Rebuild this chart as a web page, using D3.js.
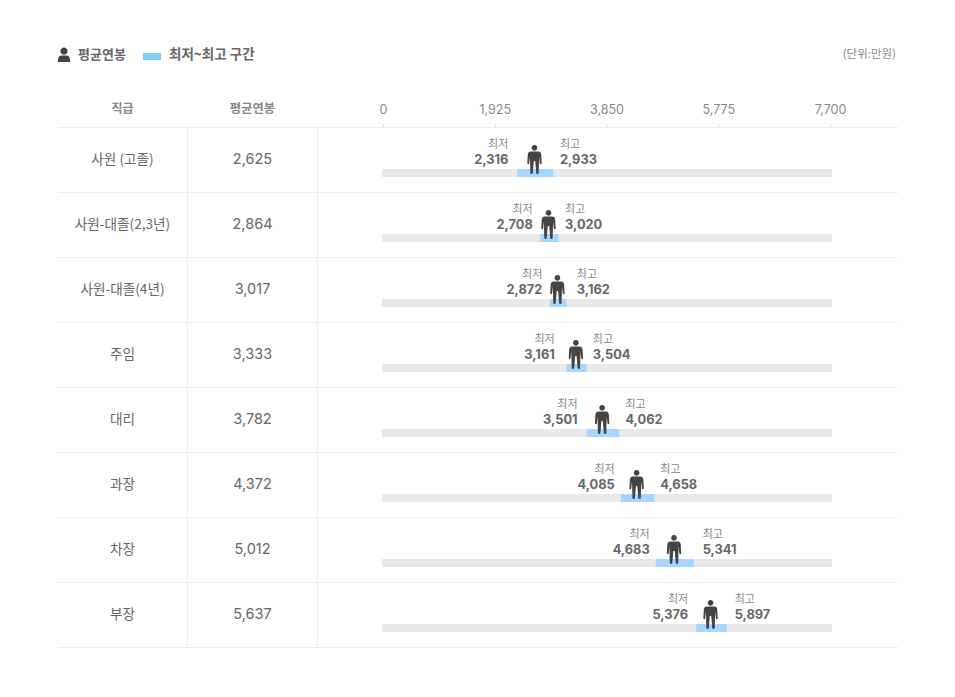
<!DOCTYPE html>
<html>
<head>
<meta charset="utf-8">
<script src="https://cdn.jsdelivr.net/npm/d3@7"></script>
<style>
  html, body { margin: 0; padding: 0; background: #fff; }
  text { font-family: Inter, "Noto Sans CJK KR", sans-serif; }
  .ko { font-family: "Noto Sans CJK KR", sans-serif; }
</style>
</head>
<body>
<div id="chart"></div>
<script>
const grades = ['사원 (고졸)', '사원-대졸(2,3년)', '사원-대졸(4년)', '주임', '대리', '과장', '차장', '부장']
const avgPay = [2625, 2864, 3017, 3333, 3782, 4372, 5012, 5637]
const lowPay = [2316, 2708, 2872, 3161, 3501, 4085, 4683, 5376]
const highPay = [2933, 3020, 3162, 3504, 4062, 4658, 5341, 5897]
const axisTicks = [0, 1925, 3850, 5775, 7700]

// hand tweaks for the min/max labels, px
const lowNudge = [-2, -0.5, 0, -5, -2, 1, 1, -1]
const highNudge = [-0.5, -0.5, 2.5, -1, -1, -1, 1.5, 1]

const w = 955
const h = 697
const rowH = 65
const tableTop = 127
const fmt = d3.format(',')

const xScale = d3.scaleLinear().domain([0, 7700]).range([382, 832])
const xAxisScale = d3.scaleLinear().domain([0, 7700]).range([383, 830])
const yScale = d3.scaleBand().domain(grades).range([tableTop, tableTop + rowH * grades.length])

// person glyph, origin at feet centre
const personPath = 'M0,-29a2.9,2.9 0 1,1 -0.01,0z' +
  'M-3.8,-22.5H3.8Q6.4,-22.5 6.7,-19.5L7.2,-11Q7.2,-9.8 6.3,-9.8Q5.4,-9.8 5.3,-11L4.6,-17.5L4.2,-1.2Q4.2,0 3,0Q1.8,0 1.7,-1.2L0.7,-13H-0.7' +
  'L-1.7,-1.2Q-1.8,0 -3,0Q-4.2,0 -4.2,-1.2L-4.6,-17.5L-5.3,-11Q-5.4,-9.8 -6.3,-9.8Q-7.2,-9.8 -7.2,-11L-6.7,-19.5Q-6.4,-22.5 -3.8,-22.5z'

const svg = d3.select('#chart').append('svg')
  .attr('width', w)
  .attr('height', h)
  .style('display', 'block')

// legend
svg.append('path')
  .attr('transform', 'translate(64,62)')
  .attr('fill', '#444')
  .attr('d', 'M0,-14.5a3.6,3.6 0 1,1 -0.01,0zM-6,0v-2.5q0,-4 4,-4h4q4,0 4,4v2.5z')
svg.append('text').attr('class', 'ko').attr('x', 78).attr('y', 58.5)
  .attr('font-size', 13).attr('font-weight', 700).attr('fill', '#666').text('평균연봉')
svg.append('rect').attr('x', 143).attr('y', 53).attr('width', 18).attr('height', 7).attr('fill', '#80ccff')
svg.append('text').attr('class', 'ko').attr('x', 169).attr('y', 58.5)
  .attr('font-size', 13.5).attr('font-weight', 700).attr('fill', '#666').text('최저~최고 구간')
svg.append('text').attr('class', 'ko').attr('x', 896).attr('y', 58).attr('text-anchor', 'end')
  .attr('font-size', 11.5).attr('fill', '#888').text('(단위:만원)')

// header
svg.append('text').attr('class', 'ko').attr('x', 122.5).attr('y', 112.5).attr('text-anchor', 'middle')
  .attr('font-size', 12).attr('font-weight', 700).attr('fill', '#888').text('직급')
svg.append('text').attr('class', 'ko').attr('x', 252.5).attr('y', 112.5).attr('text-anchor', 'middle')
  .attr('font-size', 12.3).attr('font-weight', 700).attr('fill', '#888').text('평균연봉')

const xAxis = d3.axisTop(xAxisScale).tickValues(axisTicks).tickFormat(fmt).tickSize(3).tickPadding(10)
const axisG = svg.append('g')
  .attr('transform', `translate(0,${tableTop})`)
  .call(xAxis)
axisG.select('.domain').remove()
axisG.selectAll('line').attr('stroke', '#ddd')
axisG.selectAll('text').attr('font-size', 12.5).attr('fill', '#888').attr('font-family', 'Inter')

// table rules
svg.append('line').attr('x1', 58).attr('x2', 898).attr('y1', tableTop + 0.5).attr('y2', tableTop + 0.5).attr('stroke', '#eee')

const rows = svg.selectAll('.row')
  .data(grades)
  .enter()
  .append('g')
  .attr('class', 'row')
  .attr('transform', (d) => `translate(0,${yScale(d)})`)

rows.append('line').attr('x1', 58).attr('x2', 898).attr('y1', rowH + 0.5).attr('y2', rowH + 0.5).attr('stroke', '#eee')
rows.selectAll('.vline').data([187.5, 317.5]).enter().append('line')
  .attr('class', 'vline').attr('x1', (d) => d).attr('x2', (d) => d)
  .attr('y1', 1).attr('y2', rowH - 1).attr('stroke', '#eee')

rows.append('text').attr('class', 'ko').attr('x', 122.5).attr('y', 36.5).attr('text-anchor', 'middle')
  .attr('font-size', 13.6).attr('fill', '#666').text((d) => d)
rows.append('text').attr('x', 252.5).attr('y', 37).attr('text-anchor', 'middle')
  .attr('font-size', 14.5).attr('fill', '#666').text((d, i) => fmt(avgPay[i]))

// track and range
rows.append('rect').attr('x', xScale(0)).attr('y', 42).attr('width', xScale(7700) - xScale(0)).attr('height', 8).attr('fill', '#e9e9e9')
rows.append('rect')
  .attr('x', (d, i) => xScale(lowPay[i]))
  .attr('y', 42)
  .attr('width', (d, i) => xScale(highPay[i]) - xScale(lowPay[i]))
  .attr('height', 8)
  .attr('fill', '#a6d5ff')

rows.append('path')
  .attr('transform', (d, i) => `translate(${xScale(avgPay[i]) - 0.9},47)`)
  .attr('fill', '#444')
  .attr('d', personPath)

// labels sit beside the range, but never closer to the figure than minGap
const minGap = 16
const lowX = (i) => Math.min(xScale(lowPay[i]) - 7, xScale(avgPay[i]) - minGap) + lowNudge[i]
const highX = (i) => Math.max(xScale(highPay[i]) + 7, xScale(avgPay[i]) + minGap) + highNudge[i]

rows.append('text').attr('class', 'ko').attr('x', (d, i) => lowX(i)).attr('y', 21).attr('text-anchor', 'end')
  .attr('font-size', 11).attr('fill', '#888').text('최저')
rows.append('text').attr('x', (d, i) => lowX(i)).attr('y', 37).attr('text-anchor', 'end')
  .attr('font-size', 12.8).attr('font-weight', 700).attr('fill', '#666').text((d, i) => fmt(lowPay[i]))
rows.append('text').attr('class', 'ko').attr('x', (d, i) => highX(i)).attr('y', 21)
  .attr('font-size', 11).attr('fill', '#888').text('최고')
rows.append('text').attr('x', (d, i) => highX(i)).attr('y', 37)
  .attr('font-size', 12.8).attr('font-weight', 700).attr('fill', '#666').text((d, i) => fmt(highPay[i]))
</script>
</body>
</html>
